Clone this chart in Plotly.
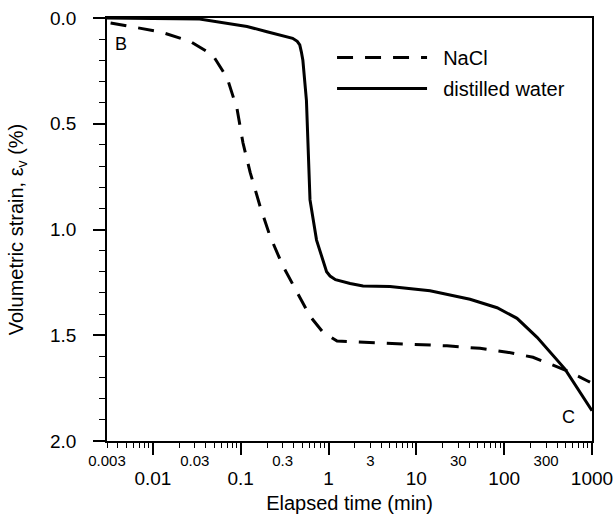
import numpy as np
import plotly.graph_objects as go

# ---- data ----
nacl_t = [0.0016, 0.0035, 0.012, 0.0264, 0.048, 0.070, 0.0908, 0.106, 0.128, 0.166,
          0.215, 0.30, 0.438, 0.615, 0.865, 1.25, 1.76, 7.05, 22.3, 53, 108, 213,
          333, 520, 880, 950]
nacl_e = [0.0, 0.025, 0.065, 0.11, 0.175, 0.283, 0.43, 0.59, 0.73, 0.89,
          1.03, 1.17, 1.30, 1.41, 1.486, 1.527, 1.53, 1.542, 1.55, 1.562, 1.58, 1.604,
          1.637, 1.668, 1.715, 1.722]

water_t = [0.0016, 0.003, 0.034, 0.118, 0.199, 0.39, 0.44, 0.47, 0.49, 0.51, 0.56,
           0.615, 0.73, 0.865, 0.95, 1.04, 1.2, 1.76, 2.47, 5.0, 14.3, 40.8, 83, 140,
           237, 493, 609, 1000]
water_e = [0.0, 0.0, 0.005, 0.04, 0.065, 0.096, 0.11, 0.127, 0.16, 0.2, 0.39,
           0.86, 1.05, 1.15, 1.2, 1.22, 1.237, 1.255, 1.267, 1.27, 1.29, 1.33, 1.37, 1.42,
           1.51, 1.66, 1.72, 1.857]

major_x = [0.01, 0.1, 1, 10, 100, 1000]
major_x_text = ["0.01", "0.1", "1", "10", "100", "1000"]
small_x = [0.003, 0.03, 0.3, 3, 30, 300]
small_x_text = ["0.003", "0.03", "0.3", "3", "30", "300"]
y_ticks = [0.0, 0.5, 1.0, 1.5, 2.0]

FONT = "Liberation Sans, Arial, sans-serif"
minor_x = [k * 10.0 ** n for n in range(-3, 3) for k in range(2, 10)]
minor_x = [v for v in minor_x if 0.003 <= v <= 1000]

fig = go.Figure()
fig.add_trace(go.Scatter(x=nacl_t, y=nacl_e, mode="lines", name="&nbsp;&nbsp;NaCl",
                         line=dict(color="black", width=3, dash="16px,12px"),
                         legendgroup="a"))
fig.add_trace(go.Scatter(x=water_t, y=water_e, mode="lines",
                         name="&nbsp;&nbsp;distilled water",
                         line=dict(color="black", width=3),
                         legendgroup="b"))
# invisible trace on the overlaying axis for the small labels
fig.add_trace(go.Scatter(x=[0.003, 1000], y=[0, 0], xaxis="x2", mode="lines",
                         line=dict(width=0), showlegend=False, hoverinfo="skip"))

xr = [np.log10(0.003), 3]
fig.update_layout(
    width=616, height=514,
    margin=dict(l=107, r=24, t=18, b=73),
    plot_bgcolor="white", paper_bgcolor="white",
    font=dict(family=FONT, color="black", size=16),
    showlegend=True,
    legend=dict(x=0.464, y=0.953, xanchor="left", yanchor="top",
                font=dict(size=20), bgcolor="rgba(0,0,0,0)",
                tracegroupgap=2, traceorder="grouped", itemwidth=90),
    xaxis=dict(type="log", range=xr, showline=True, linecolor="black", linewidth=1.5,
               mirror=True, ticks="outside", ticklen=12, tickwidth=1.5, tickcolor="black",
               tickvals=major_x, ticktext=major_x_text, tickfont=dict(size=19),
               ticklabelstandoff=7, automargin=False,
               minor=dict(ticks="outside", ticklen=5, tickwidth=1.2, tickcolor="black",
                          tickvals=minor_x, showgrid=False),
               showgrid=False, zeroline=False,
               title=dict(text="Elapsed time (min)", font=dict(size=20), standoff=8)),
    xaxis2=dict(type="log", range=xr, overlaying="x", anchor="y", side="bottom",
                showline=False, showgrid=False, zeroline=False, ticks="",
                tickvals=small_x, ticktext=small_x_text, tickfont=dict(size=15),
                ticklabelstandoff=9, automargin=False),
    yaxis=dict(range=[2.0, 0.0], showline=True, linecolor="black", linewidth=1.5,
               mirror=True, ticks="outside", ticklen=12, tickwidth=1.5, tickcolor="black",
               tickvals=y_ticks, tickformat=".1f", tickfont=dict(size=19),
               ticklabelstandoff=13, automargin=False,
               minor=dict(ticks="outside", ticklen=6, tickwidth=1.2, tickcolor="black",
                          dtick=0.1, showgrid=False),
               showgrid=False, zeroline=False,
               title=dict(text="Volumetric strain, ε<sub>v</sub> (%)", font=dict(size=20),
                          standoff=21)),
)
fig.add_annotation(x=np.log10(0.0043), y=0.123, text="B", showarrow=False,
                   font=dict(size=18), xref="x", yref="y")
fig.add_annotation(x=np.log10(533), y=1.885, text="C", showarrow=False,
                   font=dict(size=18), xref="x", yref="y")

fig.write_html("out.html")
